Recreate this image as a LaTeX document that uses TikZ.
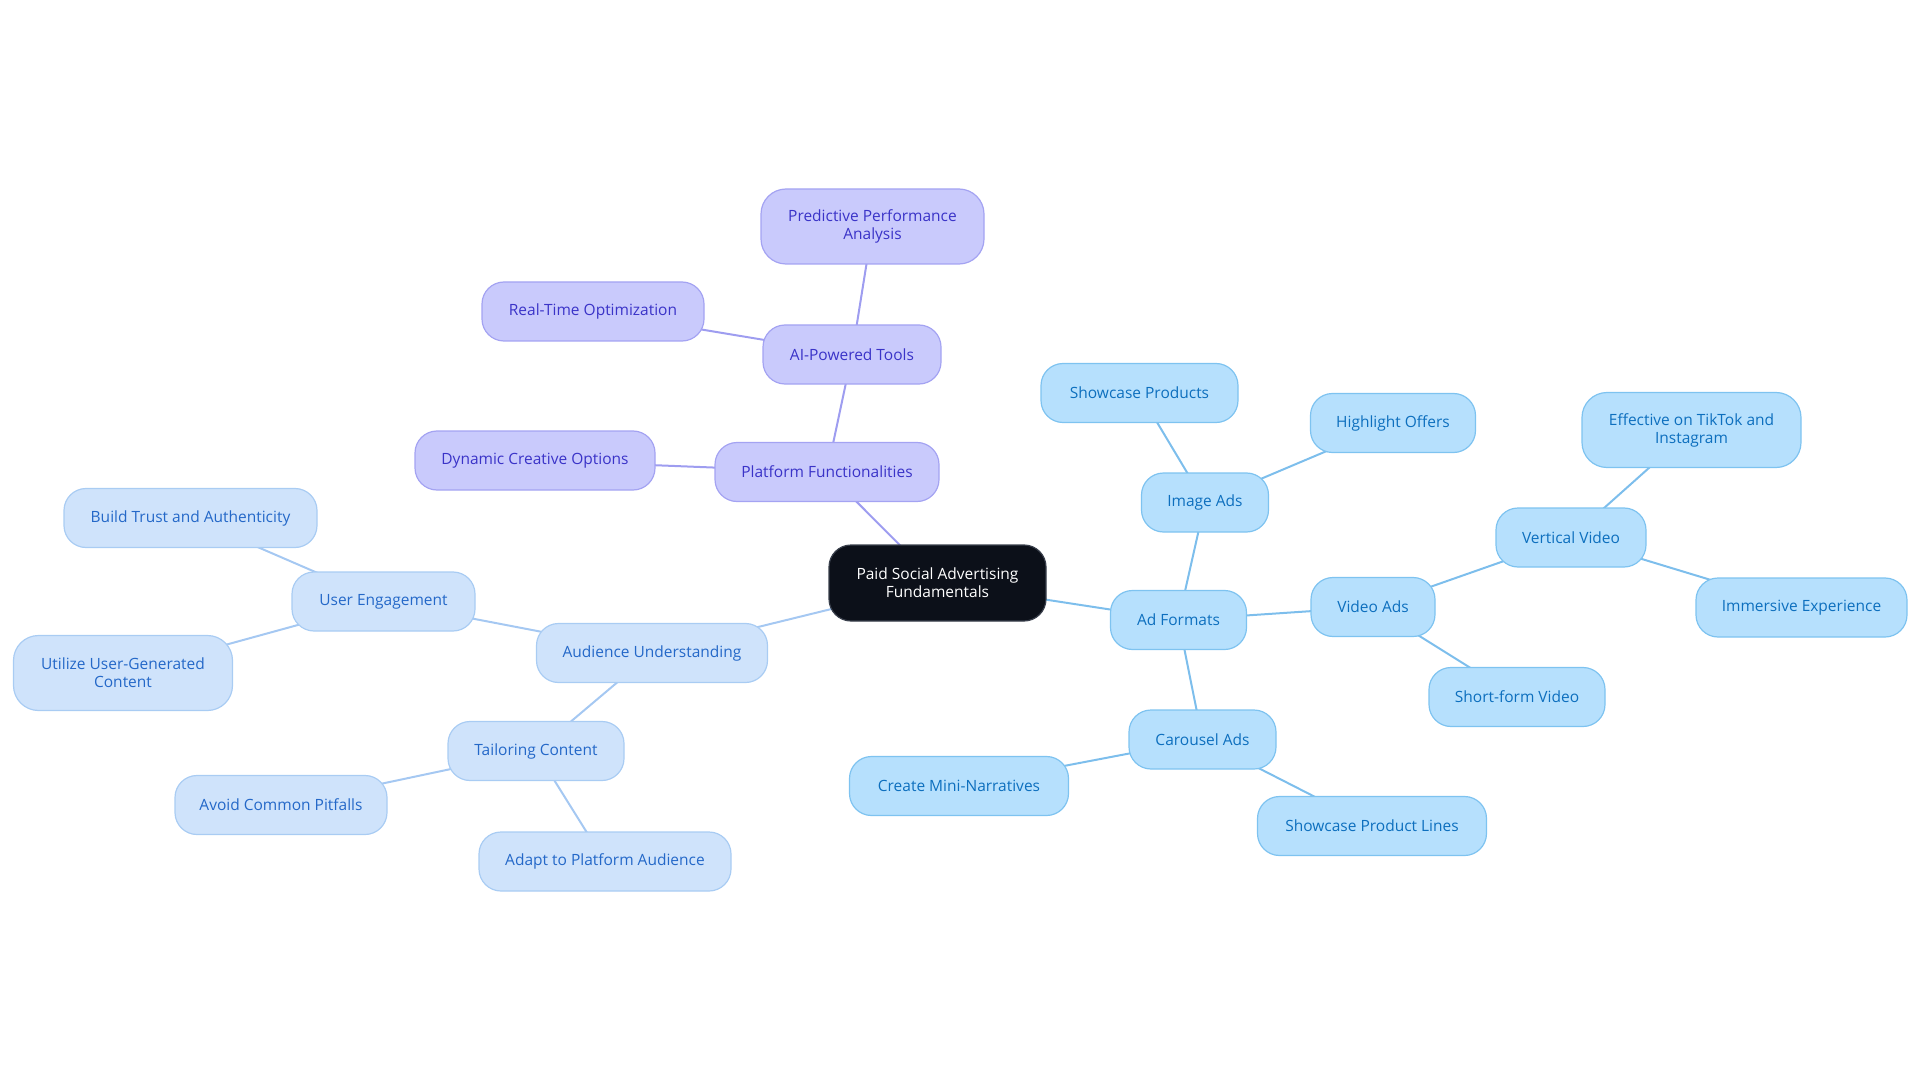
\documentclass[tikz,border=0pt]{standalone}
\usepackage{fontspec}
\setmainfont{Open Sans}
\usetikzlibrary{backgrounds}
\definecolor{cfill}{HTML}{0C1019}
\definecolor{cline}{HTML}{3A404C}
\definecolor{pfill}{HTML}{C9CAFC}
\definecolor{pline}{HTML}{A4A3F2}
\definecolor{ptext}{HTML}{3A33C8}
\definecolor{pedge}{HTML}{9E9DF0}
\definecolor{lfill}{HTML}{CFE3FB}
\definecolor{lline}{HTML}{A9CCF3}
\definecolor{ltext}{HTML}{2468C8}
\definecolor{ledge}{HTML}{A5C8F2}
\definecolor{sfill}{HTML}{B6E0FD}
\definecolor{sline}{HTML}{7EC3F0}
\definecolor{stext}{HTML}{0D6FBE}
\definecolor{sedge}{HTML}{7DBEEC}
\tikzset{
 base/.style={draw, line width=1.2pt, rounded corners=22pt, minimum height=59pt, align=center,
   font=\fontsize{15.5}{18}\selectfont, inner sep=0pt},
 cnode/.style={base, fill=cfill, draw=cline, text=white, minimum height=76pt},
 pnode/.style={base, fill=pfill, draw=pline, text=ptext},
 lnode/.style={base, fill=lfill, draw=lline, text=ltext},
 snode/.style={base, fill=sfill, draw=sline, text=stext},
 tall/.style={minimum height=75pt, rounded corners=25pt},
 wd/.style={minimum width=#1pt},
 pe/.style={draw=pedge, line width=2pt},
 le/.style={draw=ledge, line width=2pt},
 se/.style={draw=sedge, line width=2pt},
}
\begin{document}
\begin{tikzpicture}[x=1pt,y=-1pt]
\useasboundingbox (0,0) rectangle (1920,1083);
% center
\node[cnode, wd=217] (c) at (937.5,583) {Paid Social Advertising\\Fundamentals};
% purple
\node[pnode, wd=224] (pf) at (827,472) {Platform Functionalities};
\node[pnode, wd=178] (ai) at (852,354.5) {AI-Powered Tools};
\node[pnode, tall, wd=223] (ppa) at (872.5,226.5) {Predictive Performance\\Analysis};
\node[pnode, wd=222] (rto) at (593,311.5) {Real-Time Optimization};
\node[pnode, wd=240] (dco) at (535,460.5) {Dynamic Creative Options};
% light blue
\node[lnode, wd=231] (au) at (652,653) {Audience Understanding};
\node[lnode, wd=183] (ue) at (383.5,601.5) {User Engagement};
\node[lnode, wd=253] (bta) at (190.5,518) {Build Trust and Authenticity};
\node[lnode, tall, wd=219] (uugc) at (123,673) {Utilize User-Generated\\Content};
\node[lnode, wd=176] (tc) at (536,751) {Tailoring Content};
\node[lnode, wd=212] (acp) at (281,805) {Avoid Common Pitfalls};
\node[lnode, wd=252] (apa) at (605,861.5) {Adapt to Platform Audience};
% sky
\node[snode, wd=136] (af) at (1178.5,620) {Ad Formats};
\node[snode, wd=127] (ia) at (1205,502.5) {Image Ads};
\node[snode, wd=197] (sp) at (1139.5,393) {Showcase Products};
\node[snode, wd=165] (ho) at (1393,423) {Highlight Offers};
\node[snode, wd=124] (va) at (1373,607) {Video Ads};
\node[snode, wd=150] (vv) at (1571,537.5) {Vertical Video};
\node[snode, tall, wd=219] (eti) at (1691.5,430) {Effective on TikTok and\\Instagram};
\node[snode, wd=211] (ie) at (1801.5,607.5) {Immersive Experience};
\node[snode, wd=176] (sfv) at (1517,697) {Short-form Video};
\node[snode, wd=147] (ca) at (1202.5,739.5) {Carousel Ads};
\node[snode, wd=219] (cmn) at (959,786) {Create Mini-Narratives};
\node[snode, wd=229] (spl) at (1372,826) {Showcase Product Lines};
% edges, behind the nodes
\begin{scope}[on background layer]
\draw[pe] (c.center) -- (pf.center);
\draw[pe] (pf.center) -- (ai.center);
\draw[pe] (ai.center) -- (ppa.center);
\draw[pe] (ai.center) -- (rto.center);
\draw[pe] (pf.center) -- (dco.center);
\draw[le] (c.center) -- (au.center);
\draw[le] (au.center) -- (ue.center);
\draw[le] (ue.center) -- (bta.center);
\draw[le] (ue.center) -- (uugc.center);
\draw[le] (au.center) -- (tc.center);
\draw[le] (tc.center) -- (acp.center);
\draw[le] (tc.center) -- (apa.center);
\draw[se] (c.center) -- (af.center);
\draw[se] (af.center) -- (ia.center);
\draw[se] (ia.center) -- (sp.center);
\draw[se] (ia.center) -- (ho.center);
\draw[se] (af.center) -- (va.center);
\draw[se] (va.center) -- (vv.center);
\draw[se] (vv.center) -- (eti.center);
\draw[se] (vv.center) -- (ie.center);
\draw[se] (va.center) -- (sfv.center);
\draw[se] (af.center) -- (ca.center);
\draw[se] (ca.center) -- (cmn.center);
\draw[se] (ca.center) -- (spl.center);
\end{scope}
\end{tikzpicture}
\end{document}
